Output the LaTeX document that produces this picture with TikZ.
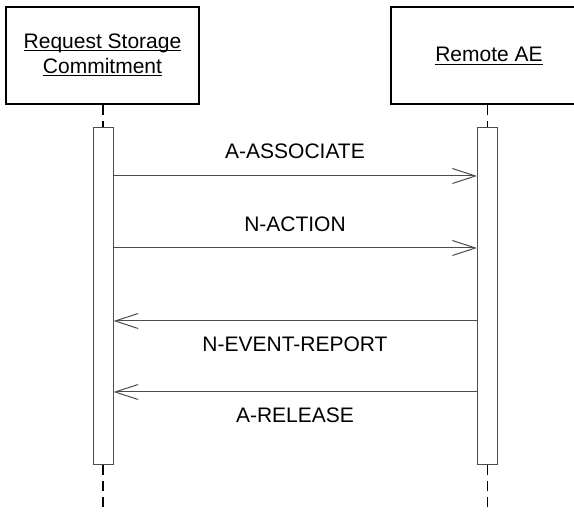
\documentclass[tikz,border=0pt]{standalone}
\usepackage{fontspec}
\setmainfont{Liberation Sans}
\usetikzlibrary{arrows.meta}
\newcommand\myul[1]{\setbox0\hbox{#1}\rlap{\rule[-3pt]{\wd0}{1.2pt}}\box0}
\begin{document}
\begin{tikzpicture}[x=1pt,y=-1pt,
  every node/.style={font=\fontsize{21}{25}\selectfont, inner sep=0pt},
  objbox/.style={draw=black, line width=1.6pt, fill=white},
  actbar/.style={draw=black!70, line width=1pt, fill=white, minimum width=20pt, minimum height=337pt},
  life/.style={draw=black, line width=1.4pt, dash pattern=on 10pt off 6pt},
  msg/.style={draw=black!70, line width=1pt, -{Straight Barb[length=23pt,width=15pt,line width=1pt]}},
  lbl/.style={anchor=base}]
\useasboundingbox (0,0) rectangle (574,513);
\clip (0,0) rectangle (574,513);
% object boxes
\node[objbox, minimum width=193pt, minimum height=97pt] (A) at (102.5,55.5) {};
\node[align=center] (At) at (102.5,55) {\myul{Request Storage}\\\myul{Commitment}};
\node[objbox, minimum width=196pt, minimum height=97pt] (B) at (489,55.5) {};
\node (Bt) at (489,56) {\myul{Remote AE}};
% lifeline ends
\coordinate (Aend) at (103,513);
\coordinate (Bend) at (487.5,513);
% activation bars
\node[actbar] (LA) at (103,296) {};
\node[actbar] (RA) at (487.5,296) {};
% lifelines
\draw[life] (A.south -| LA.north) -- (LA.north);
\draw[life] (B.south -| RA.north) -- (RA.north);
\draw[life] (LA.south) -- (Aend);
\draw[life] (RA.south) -- (Bend);
% messages
\draw[msg] (LA.east |- 0,176) -- (RA.west |- 0,176);
\draw[msg] (LA.east |- 0,248) -- (RA.west |- 0,248);
\draw[msg] (RA.west |- 0,321) -- (LA.east |- 0,321);
\draw[msg] (RA.west |- 0,392) -- (LA.east |- 0,392);
% labels
\node[lbl] (m1) at (295,159) {A-ASSOCIATE};
\node[lbl] (m2) at (295,232) {N-ACTION};
\node[lbl] (m3) at (295,352) {N-EVENT-REPORT};
\node[lbl] (m4) at (295,423) {A-RELEASE};
\end{tikzpicture}
\end{document}
